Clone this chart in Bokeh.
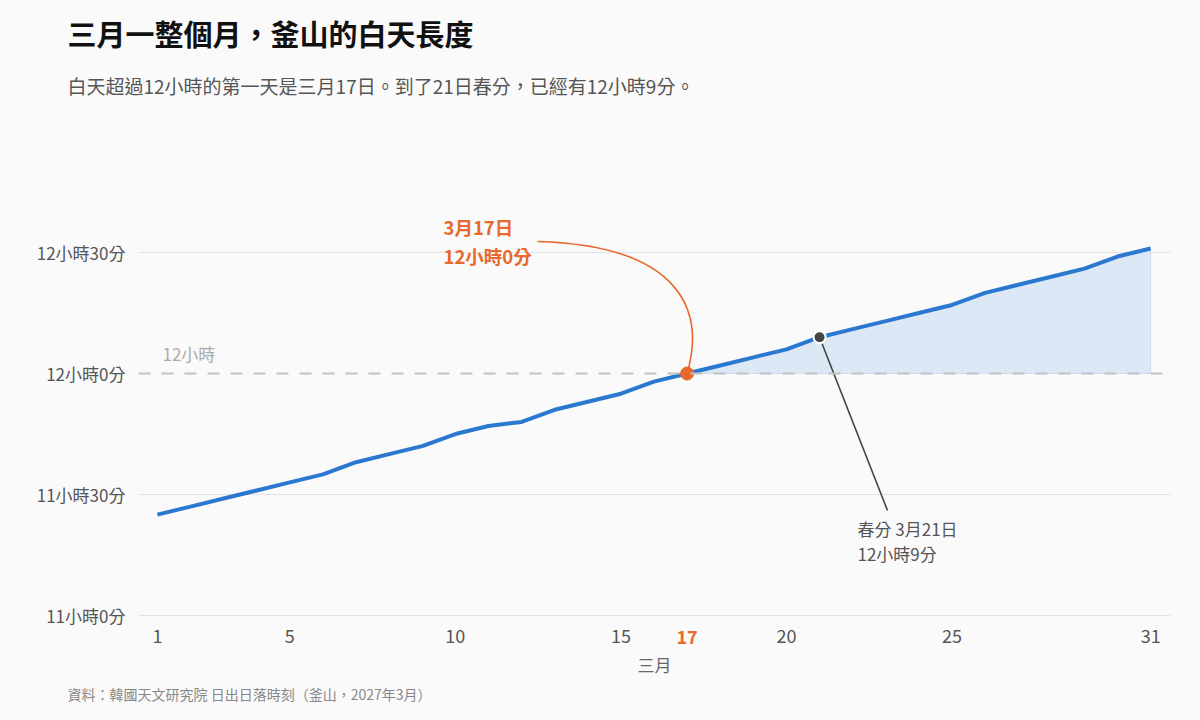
from bokeh.plotting import figure
from bokeh.models import Range1d, FixedTicker, Span, Label, Title
from bokeh.embed import file_html
from bokeh.resources import INLINE

FONT = "Noto Sans CJK TC"
BLUE = "#2b78d0"
ORANGE = "#e8692c"
DARK = "#444444"
BG = "#fafafa"

# daylight length in March, Busan (minutes)
days = list(range(1, 32))
daylight_min = [685, 687, 689, 691, 693, 695, 698, 700, 702, 705, 707, 708, 711, 713, 715,
                718, 720, 722, 724, 726, 729, 731, 733, 735, 737, 740, 742, 744, 746, 749, 751]

y_ticks = [660, 690, 720, 750]
y_tick_labels = ["11小時0分", "11小時30分", "12小時0分", "12小時30分"]
x_ticks = [1, 5, 10, 15, 20, 25, 31]
threshold = 720
highlight_day = 17
equinox_day = 21

W, H = 1200, 720
# frame in canvas pixels; bottom reaches into the tick row so "17" can be drawn there
FL, FR, FT, FB = 138, 1170, 114, 650
X0, X1 = 0.43, 31.6
Y0 = 660 - (FB - 615) / 4.033
Y1 = 660 + (615 - FT) / 4.033


def dx(px):
    return X0 + (px - FL) * (X1 - X0) / (FR - FL)


def dy(py):
    return Y0 + (FB - py) * (Y1 - Y0) / (FB - FT)


p = figure(width=W, height=H, output_backend="svg", toolbar_location=None, tools="",
           title=None, x_range=Range1d(X0, X1), y_range=Range1d(Y0, Y1),
           min_border_left=FL, min_border_right=W - FR,
           min_border_top=FT, min_border_bottom=H - FB)
p.background_fill_color = BG
p.border_fill_color = BG
p.outline_line_color = None

p.xgrid.grid_line_color = None
p.ygrid.ticker = FixedTicker(ticks=[t for t in y_ticks if t != threshold])
p.ygrid.grid_line_color = "#e3e3e3"

p.xaxis.ticker = FixedTicker(ticks=x_ticks)
p.yaxis.ticker = FixedTicker(ticks=y_ticks)
p.yaxis.major_label_overrides = dict(zip(y_ticks, y_tick_labels))
for ax in (p.xaxis, p.yaxis):
    ax.axis_line_color = None
    ax.major_tick_line_color = None
    ax.minor_tick_line_color = None
    ax.major_label_text_font = FONT
    ax.major_label_text_color = "#555555"
p.yaxis.major_label_text_font_size = "17px"
p.xaxis.major_label_text_font_size = "18px"
p.yaxis.major_label_standoff = 7
p.xaxis.major_label_standoff = -28
p.xaxis.axis_label = "三月"
p.xaxis.axis_label_text_font = FONT
p.xaxis.axis_label_text_font_size = "17px"
p.xaxis.axis_label_text_font_style = "normal"
p.xaxis.axis_label_text_color = "#666666"
p.xaxis.axis_label_standoff = 6

# shaded area above 12 hours
i0 = days.index(highlight_day)
ax_ = days[i0:] + days[i0:][::-1]
ay_ = daylight_min[i0:] + [threshold] * len(days[i0:])
p.patch(ax_, ay_, fill_color="#dde8f6", line_color="#cfdcee", line_width=1)

p.add_layout(Span(location=threshold, dimension="width", line_color="#c2c2c2",
                  line_width=2, line_dash="12 11"))

p.line(days, daylight_min, line_color=BLUE, line_width=4)

# 3/17 callout
hx, hy = highlight_day, daylight_min[i0]
p.bezier(x0=[dx(537)], y0=[dy(241)], x1=[hx], y1=[hy],
         cx0=[dx(680)], cy0=[dy(245)], cx1=[dx(705)], cy1=[dy(310)],
         line_color=ORANGE, line_width=1.6)
p.scatter([hx], [hy], size=13, fill_color=ORANGE, line_color=ORANGE)

# equinox callout
ie = days.index(equinox_day)
ex, ey = equinox_day, daylight_min[ie]
p.segment(x0=[ex], y0=[ey], x1=[dx(887)], y1=[dy(510)], line_color=DARK, line_width=1.6)
p.scatter([ex], [ey], size=12, fill_color=DARK, line_color="white", line_width=2)


def lab(text, px, py, size, color, bold=False, align="left"):
    p.add_layout(Label(x=dx(px), y=dy(py), text=text, text_font=FONT,
                       text_font_size=f"{size}px", text_color=color,
                       text_font_style="bold" if bold else "normal",
                       text_align=align, text_baseline="middle"))


lab("12小時", 162, 353, 17, "#aaaaaa")
lab("3月17日", 443, 226, 18.5, ORANGE, bold=True)
lab("12小時0分", 443, 255, 18.5, ORANGE, bold=True)
lab("春分 3月21日", 857, 528, 17, "#555555")
lab("12小時9分", 857, 553, 17, "#555555")
p.add_layout(Label(x=highlight_day, y=dy(636), text=str(highlight_day), text_font=FONT,
                   text_font_size="18px", text_color=ORANGE, text_font_style="bold",
                   text_align="center", text_baseline="middle"))

# titles and source line
p.add_layout(Title(text="白天超過12小時的第一天是三月17日。到了21日春分，已經有12小時9分。",
                   align="left", offset=67 - FL, text_font=FONT, text_font_size="19px",
                   text_font_style="normal", text_color="#555555", standoff=32), "above")
p.add_layout(Title(text="三月一整個月，釜山的白天長度", align="left", offset=67 - FL,
                   text_font=FONT, text_font_size="29px", text_font_style="bold",
                   text_color="#111111", standoff=0), "above")
p.add_layout(Title(text="資料：韓國天文研究院 日出日落時刻（釜山，2027年3月）", align="left",
                   offset=67 - FL, text_font=FONT, text_font_size="14px",
                   text_font_style="normal", text_color="#888888", standoff=4), "below")

html = file_html(p, INLINE, title="釜山的白天長度")
html = html.replace("<body>", '<body style="background:%s">' % BG)
open("out.html", "w").write(html)
